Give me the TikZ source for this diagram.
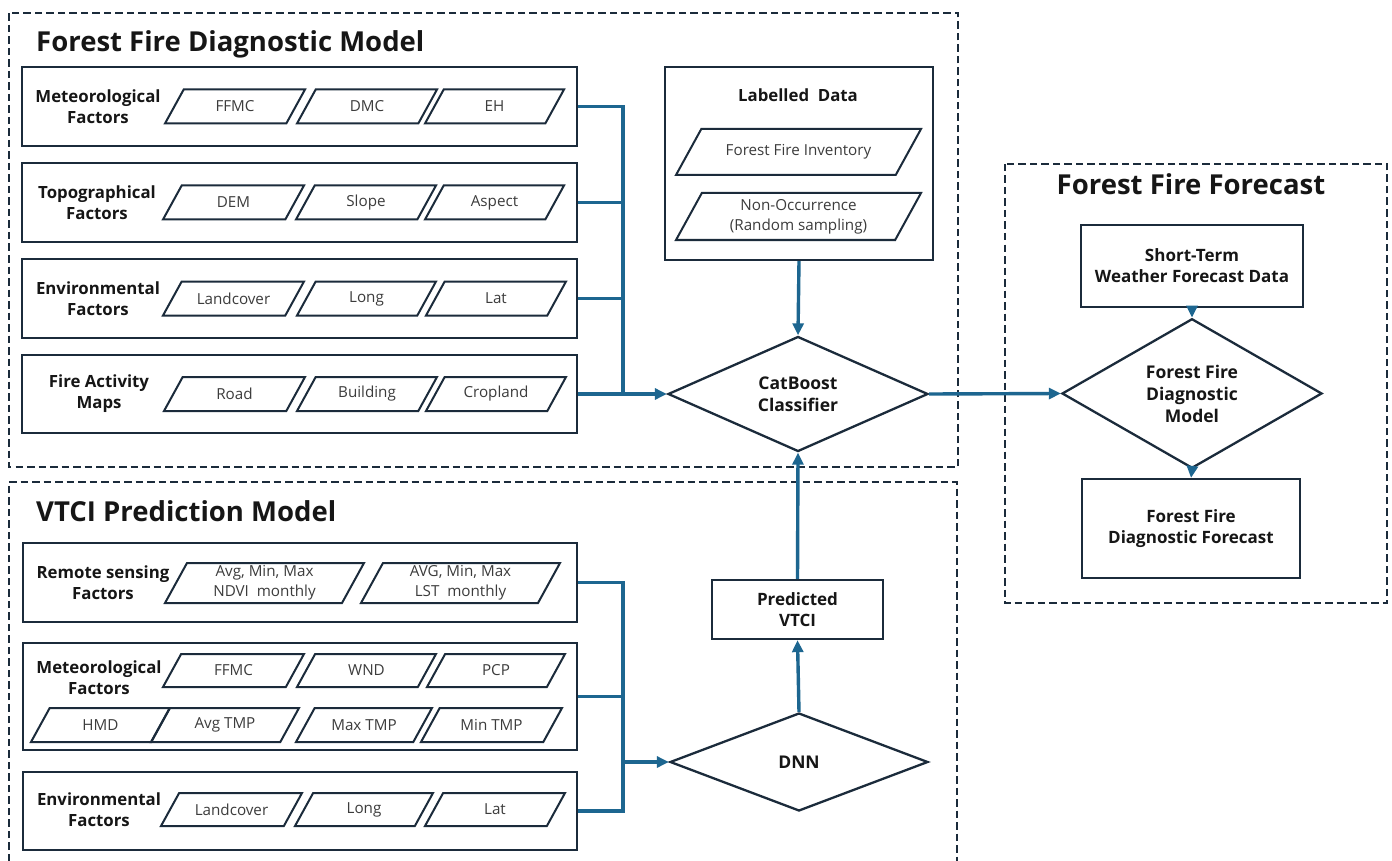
\documentclass[tikz,border=0pt]{standalone}
\usepackage{fontspec}
\setmainfont{Open Sans}
\usetikzlibrary{arrows.meta,shapes.geometric}
\definecolor{cblue}{RGB}{29,102,144}
\definecolor{navy}{RGB}{27,43,59}
\definecolor{ink}{RGB}{22,22,22}
\definecolor{ptxt}{RGB}{60,60,60}
\tikzset{
  conn/.style={draw=cblue,line width=3.4pt},
  arr/.style={conn,-{Triangle[length=12pt,width=11pt]}},
  rowbox/.style={draw=navy,line width=2.3pt,rectangle,inner sep=0pt},
  plainbox/.style={draw=navy,line width=2.3pt,rectangle,inner sep=0pt,align=center,text=ink,font=\fontsize{17}{21}\selectfont\bfseries},
  dia/.style={draw=navy,line width=2.3pt,diamond,inner sep=0pt,align=center,text=ink,font=\fontsize{17.5}{22}\selectfont\bfseries},
  pgline/.style={draw=navy,line width=2pt,line join=miter},
  pgtext/.style={text=ptxt,align=center,inner sep=0pt,font=\fontsize{15.2}{20}\selectfont},
  rlabel/.style={text=ink,align=center,inner sep=0pt,font=\fontsize{16.8}{21}\selectfont\bfseries},
  ttl/.style={text=ink,inner sep=0pt,font=\fontsize{27.5}{32}\selectfont\bfseries},
  dbox/.style={draw=navy,line width=2pt,dash pattern=on 7.5pt off 4pt}
}
\newcommand{\pgm}[6]{%
  \draw[pgline] (#2,#5) -- ({#2+0.55*(#5-#4)},#4) -- (#3,#4) -- ({#3-0.55*(#5-#4)},#5) -- cycle;
  \node[pgtext] (#1) at ({(#2+#3)/2},{(#4+#5)/2}) {#6};
}
\begin{document}
\begin{tikzpicture}[x=1pt,y=-1pt]
\useasboundingbox[fill=white] (0,0) rectangle (1392,861);

% ---------- dashed frames ----------
\draw[dbox] (8.5,13.5) rectangle (958,466.5);
\draw[dbox] (8.5,861) -- (8.5,482) -- (957,482) -- (957,861);
\draw[dbox] (1005,164) rectangle (1387,603);

% ---------- titles ----------
\node[ttl,anchor=base west] (t1) at (36,52) {Forest Fire Diagnostic Model};
\node[ttl,anchor=base west] (t2) at (36,521) {VTCI Prediction Model};
\node[ttl,anchor=base] (t3) at (1191,195) {Forest Fire Forecast};

% ---------- top rows ----------
\node[rowbox,minimum width=555pt,minimum height=79pt] (r1) at (299.5,106.5) {};
\node[rowbox,minimum width=555pt,minimum height=79pt] (r2) at (299.5,202.5) {};
\node[rowbox,minimum width=555pt,minimum height=79pt] (r3) at (299.5,298.5) {};
\node[rowbox,minimum width=555pt,minimum height=78pt] (r4) at (299.5,394) {};
\node[rlabel] (l1) at (98,106.5) {Meteorological\\Factors};
\node[rlabel] (l2) at (97,202.5) {Topographical\\Factors};
\node[rlabel] (l3) at (98,298.5) {Environmental\\Factors};
\node[rlabel] (l4) at (99,394) {Fire Activity\\Maps};

\pgm{p11}{165}{305}{89.5}{123.5}{FFMC}
\pgm{p12}{297}{437}{89.5}{123.5}{DMC}
\pgm{p13}{425}{564}{89.5}{123.5}{EH}
\pgm{p21}{163}{304}{185.5}{219.5}{DEM}
\pgm{p22}{296}{436}{185.5}{219.5}{Slope}
\pgm{p23}{425}{564}{185.5}{219.5}{Aspect}
\pgm{p31}{163}{304}{281.5}{315.5}{Landcover}
\pgm{p32}{297}{436}{281.5}{315.5}{Long}
\pgm{p33}{426}{566}{281.5}{315.5}{Lat}
\pgm{p41}{164}{305}{377}{411}{Road}
\pgm{p42}{297}{437}{377}{411}{Building}
\pgm{p43}{426}{566}{377}{411}{Cropland}

% ---------- labelled data ----------
\node[rowbox,minimum width=268pt,minimum height=193pt] (ld) at (799,163.5) {};
\node[text=ink,inner sep=0pt,font=\fontsize{16.8}{20}\selectfont\bfseries] (ldt) at (798,95) {Labelled\ \ Data};
\pgm{pa}{676}{921}{129}{175}{Forest Fire Inventory}
\pgm{pb}{676}{921}{193}{240}{Non-Occurrence\\(Random sampling)}

% ---------- CatBoost ----------
\node[dia,minimum width=260pt,minimum height=98pt] (cat) at (798,394) {CatBoost\\Classifier};

% ---------- bottom rows ----------
\node[rowbox,minimum width=554pt,minimum height=79pt] (rs) at (300,582.5) {};
\node[rowbox,minimum width=554pt,minimum height=107pt] (met) at (300,696.5) {};
\node[rowbox,minimum width=554pt,minimum height=78pt] (env) at (300,811) {};
\node[rlabel] (lrs) at (103,582.5) {Remote sensing\\Factors};
\node[rlabel] (lmet) at (99,678) {Meteorological\\Factors};
\node[rlabel] (lenv) at (99,810) {Environmental\\Factors};

\pgm{q1}{165}{364}{563}{603}{Avg, Min, Max\\NDVI\ \ monthly}
\pgm{q2}{361}{560}{563}{603}{AVG, Min, Max\\LST\ \ monthly}
\pgm{m1}{163}{304}{654}{687}{FFMC}
\pgm{m2}{297}{436}{654}{687}{WND}
\pgm{m3}{427}{565}{654}{687}{PCP}
\pgm{m4}{31}{170}{708}{742}{HMD}
\pgm{m5}{151}{299}{708}{742}{Avg TMP}
\pgm{m6}{296}{432}{708}{742}{Max TMP}
\pgm{m7}{421}{562}{708}{742}{Min TMP}
\pgm{e1}{161}{302}{793}{826}{Landcover}
\pgm{e2}{295}{433}{793}{826}{Long}
\pgm{e3}{425}{565}{793}{826}{Lat}

% ---------- DNN / predicted ----------
\node[dia,minimum width=258pt,minimum height=98pt] (dnn) at (799,762) {DNN};
\node[plainbox,minimum width=171pt,minimum height=59pt] (pv) at (797.5,609.5) {Predicted\\VTCI};

% ---------- forecast ----------
\node[plainbox,minimum width=222pt,minimum height=82pt] (st) at (1192,266) {Short-Term\\Weather Forecast Data};
\node[dia,minimum width=260pt,minimum height=100pt] (fd) at (1192,393.5) {Forest Fire\\Diagnostic\\Model};
\node[plainbox,minimum width=218pt,minimum height=99pt] (fc) at (1191,528.5) {Forest Fire\\Diagnostic Forecast};

% ---------- connectors ----------
\coordinate (jA) at (623,394);
\draw[conn] (r1.east) -| (jA);
\draw[conn] (r2.east) -| (jA);
\draw[conn] (r3.east) -| (jA);
\draw[arr] (r4.east) -- (cat.west);
\draw[arr] (ld.south) -- (cat.north);

\coordinate (jB) at (623,762);
\draw[conn] (rs.east) -| (jB);
\draw[conn] (met.east) -| (jB);
\draw[conn] (env.east) -| (jB);
\draw[arr] (jB) -- (dnn.west);
\draw[arr] (dnn.north) -- (pv.south);
\draw[arr] (pv.north) -- (cat.south);

\draw[arr] (cat.east) -- (fd.west);
\draw[arr] (st.south) -- (fd.north);
\draw[arr] (fd.south) -- (fc.north);
\end{tikzpicture}
\end{document}
